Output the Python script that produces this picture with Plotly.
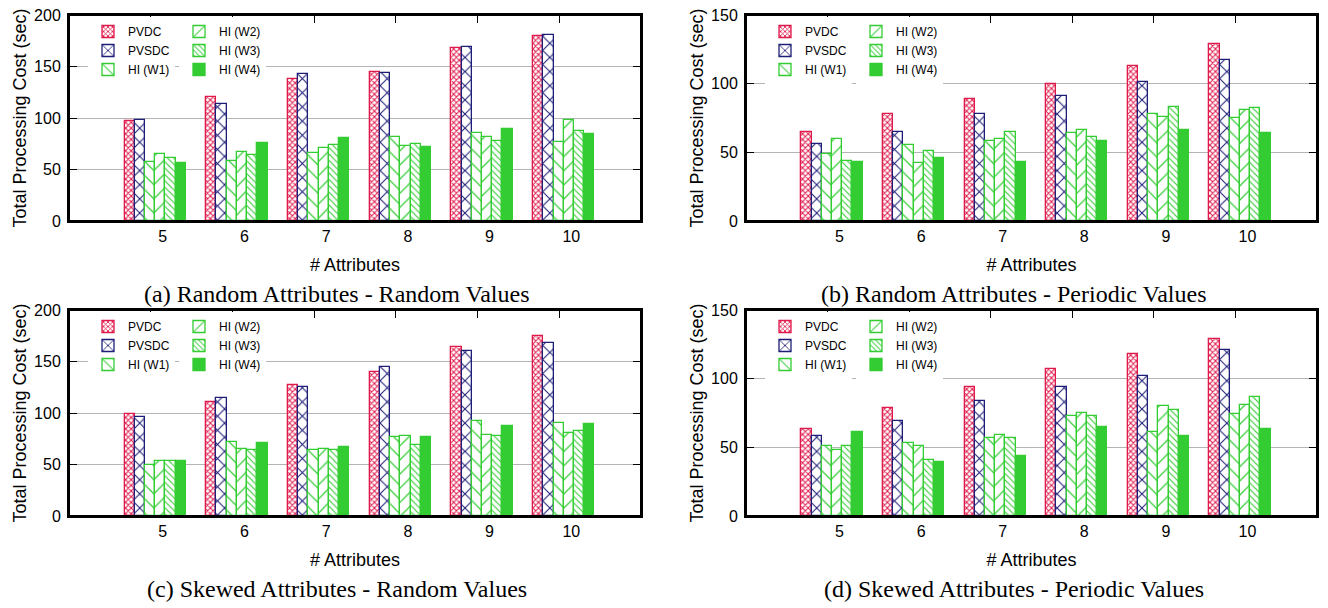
import plotly.graph_objects as go

# ---------------- data ----------------
attributes = [5, 6, 7, 8, 9, 10]
series_names = ["PVDC", "PVSDC", "HI (W1)", "HI (W2)", "HI (W3)", "HI (W4)"]

# (a) Random Attributes - Random Values
a_pvdc = [97, 120, 138, 145, 168, 180]
a_pvsdc = [98, 114, 143, 144, 169, 181]
a_w1 = [57, 58, 66, 82, 85, 77]
a_w2 = [65, 67, 71, 73, 82, 98]
a_w3 = [61, 64, 74, 75, 78, 87]
a_w4 = [56, 76, 81, 72, 89, 84]

# (b) Random Attributes - Periodic Values
b_pvdc = [65, 78, 89, 100, 113, 129]
b_pvsdc = [56, 65, 78, 91, 101, 117]
b_w1 = [49, 55, 58, 64, 78, 75]
b_w2 = [60, 42, 60, 66, 76, 81]
b_w3 = [44, 51, 65, 61, 83, 82]
b_w4 = [43, 46, 43, 58, 66, 64]

# (c) Skewed Attributes - Random Values
c_pvdc = [99, 111, 127, 140, 164, 175]
c_pvsdc = [96, 115, 125, 145, 160, 168]
c_w1 = [50, 72, 64, 77, 92, 90]
c_w2 = [53, 65, 65, 78, 79, 81]
c_w3 = [53, 64, 64, 69, 78, 83]
c_w4 = [53, 71, 67, 77, 87, 89]

# (d) Skewed Attributes - Periodic Values
d_pvdc = [63, 79, 94, 107, 118, 129]
d_pvsdc = [58, 69, 84, 94, 102, 121]
d_w1 = [51, 53, 57, 73, 61, 74]
d_w2 = [48, 51, 59, 75, 80, 81]
d_w3 = [51, 41, 57, 73, 77, 87]
d_w4 = [61, 39, 44, 65, 58, 63]

captions = [
    "(a) Random Attributes - Random Values",
    "(b) Random Attributes - Periodic Values",
    "(c) Skewed Attributes - Random Values",
    "(d) Skewed Attributes - Periodic Values",
]
y_max = [200, 150, 200, 150]
x_title = "# Attributes"
y_title = "Total Processing Cost (sec)"

panel_data = [
    [a_pvdc, a_pvsdc, a_w1, a_w2, a_w3, a_w4],
    [b_pvdc, b_pvsdc, b_w1, b_w2, b_w3, b_w4],
    [c_pvdc, c_pvsdc, c_w1, c_w2, c_w3, c_w4],
    [d_pvdc, d_pvsdc, d_w1, d_w2, d_w3, d_w4],
]

# ---------------- styling ----------------
W, H = 1328, 608
RED = "#e0194b"
NAVY = "#1e1e78"
GREEN = "#33cc33"
SANS = "Liberation Sans, Arial, sans-serif"
SERIF = "Liberation Serif, Times New Roman, serif"

bar_styles = [
    dict(color=RED, shape="x", size=4, solidity=0.45),
    dict(color=NAVY, shape="x", size=10, solidity=0.2),
    dict(color=GREEN, shape="\\", size=10, solidity=0.12),
    dict(color=GREEN, shape="/", size=10, solidity=0.12),
    dict(color=GREEN, shape="\\", size=4.5, solidity=0.25),
    dict(color=GREEN, shape="", size=8, solidity=1.0),
]

# plot-area boxes in pixels: (left, right, top, bottom)
boxes = [(69, 641, 15, 221), (746, 1317, 15, 221),
         (69, 641, 310, 516), (746, 1317, 310, 516)]

BAR_W = 0.125
GROUP_SHIFT = 0.055

fig = go.Figure()

for p, (box, series_set) in enumerate(zip(boxes, panel_data)):
    sfx = "" if p == 0 else str(p + 1)
    leg_left = "legend" if p == 0 else f"legend{2 * p + 1}"
    leg_right = f"legend{2 * p + 2}"
    for i, (name, vals, st) in enumerate(zip(series_names, series_set, bar_styles)):
        if st["shape"]:
            marker = dict(
                color="white",
                line=dict(color=st["color"], width=1.3),
                pattern=dict(shape=st["shape"], fgcolor=st["color"], bgcolor="white",
                             size=st["size"], solidity=st["solidity"], fillmode="replace"),
            )
        else:
            marker = dict(color=st["color"], line=dict(color=st["color"], width=1.3))
        fig.add_trace(go.Bar(
            x=attributes, y=vals, name=name, marker=marker,
            width=BAR_W, offset=GROUP_SHIFT - 3 * BAR_W + i * BAR_W,
            xaxis="x" + sfx, yaxis="y" + sfx,
            legend=leg_left if i < 3 else leg_right,
            showlegend=True,
        ))

    l, r, t, b = box
    xd = [l / W, r / W]
    yd = [1 - b / H, 1 - t / H]
    axis_common = dict(ticks="inside", ticklen=8, tickwidth=1.3, tickcolor="black",
                       showline=True, linecolor="black", linewidth=2, mirror="ticks",
                       layer="below traces", automargin=False,
                       tickfont=dict(family=SANS, size=16, color="black"))
    fig.layout["xaxis" + sfx] = dict(
        domain=xd, anchor="y" + sfx, range=[4, 11],
        tickvals=attributes, ticktext=[str(a) for a in attributes],
        ticklabelshift=12, showgrid=False, zeroline=False,
        title=dict(text=x_title, font=dict(family=SANS, size=18, color="black"), standoff=14),
        **axis_common)
    fig.layout["yaxis" + sfx] = dict(
        domain=yd, anchor="x" + sfx, range=[0, y_max[p]], dtick=50,
        showgrid=True, gridcolor="#b4b4b4", gridwidth=1, zeroline=False,
        ticklabelstandoff=3,
        title=dict(text=y_title, font=dict(family=SANS, size=18, color="black"), standoff=3),
        **axis_common)
    # frame on top
    fig.add_shape(type="rect", xref=f"x{sfx} domain", yref=f"y{sfx} domain",
                  x0=0, x1=1, y0=0, y1=1, line=dict(color="black", width=2), layer="above")
    # legends
    leg_common = dict(bgcolor="white", borderwidth=0, tracegroupgap=0,
                      font=dict(family=SANS, size=12, color="black"),
                      xanchor="left", yanchor="top", orientation="v",
                      y=1 - (t + 2) / H, itemclick=False)
    fig.layout[leg_left] = dict(x=(l + 19) / W, **leg_common)
    fig.layout[leg_right] = dict(x=(l + 110) / W, **leg_common)
    # caption
    fig.add_annotation(text=captions[p], xref="paper", yref="paper",
                       x=(l + r) / 2 / W - 18 / W, y=1 - (b + 73) / H,
                       xanchor="center", yanchor="middle", showarrow=False,
                       font=dict(family=SERIF, size=24, color="black"))

fig.update_layout(
    width=W, height=H, margin=dict(l=0, r=0, t=0, b=0, autoexpand=False),
    paper_bgcolor="white", plot_bgcolor="white",
    barmode="overlay", bargap=0,
)

fig.write_html("out.html", config={"displayModeBar": False},
               post_script="document.body.style.margin='0px';document.body.style.overflow='hidden';")
